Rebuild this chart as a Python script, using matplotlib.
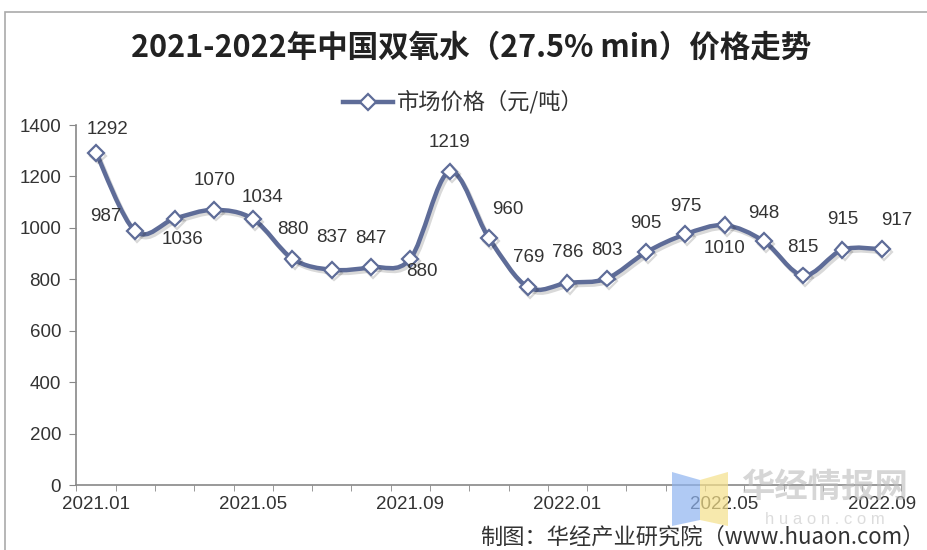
import matplotlib
matplotlib.use('Agg')
import matplotlib.pyplot as plt
import matplotlib.patheffects as pe
from matplotlib.path import Path
from matplotlib.patches import PathPatch, Rectangle, Polygon

plt.rcParams['font.family'] = ['Liberation Sans', 'Noto Sans CJK SC', 'DejaVu Sans']

months = ['2021.01', '2021.02', '2021.03', '2021.04', '2021.05', '2021.06', '2021.07',
          '2021.08', '2021.09', '2021.10', '2021.11', '2021.12', '2022.01', '2022.02',
          '2022.03', '2022.04', '2022.05', '2022.06', '2022.07', '2022.08', '2022.09']
prices = [1292, 987, 1036, 1070, 1034, 880, 837, 847, 880, 1219, 960,
          769, 786, 803, 905, 975, 1010, 948, 815, 915, 917]
tick_labels = ['2021.01', '2021.05', '2021.09', '2022.01', '2022.05', '2022.09']

# label offsets in pixels (dx, dy), style only
label_off = [(11, 23), (-30, 15), (8, -21), (1, 29), (9, 22), (0, 29), (0, 32),
             (0, 29), (12, -13), (0, 29), (19, 29), (1, 30), (0, 30), (0, 28),
             (0, 29), (0, 28), (0, -23), (0, 28), (0, 28), (0, 30), (15, 29)]

line_c = '#5E6C98'
cjk = ['Noto Sans CJK SC', 'DejaVu Sans']

fig = plt.figure(figsize=(9.28, 5.5), dpi=100)
ax = fig.add_axes([76.4 / 928, 1 - 485 / 550, 825 / 928, 360 / 550])

x = list(range(len(prices)))

# smooth curve (Catmull-Rom as cubic bezier, like Excel smoothed line)
verts = [(x[0], prices[0])]
codes = [Path.MOVETO]
n = len(prices)
for i in range(n - 1):
    p0 = (x[max(i - 1, 0)], prices[max(i - 1, 0)])
    p1 = (x[i], prices[i])
    p2 = (x[i + 1], prices[i + 1])
    p3 = (x[min(i + 2, n - 1)], prices[min(i + 2, n - 1)])
    c1 = (p1[0] + (p2[0] - p0[0]) / 6, p1[1] + (p2[1] - p0[1]) / 6)
    c2 = (p2[0] - (p3[0] - p1[0]) / 6, p2[1] - (p3[1] - p1[1]) / 6)
    verts += [c1, c2, p2]
    codes += [Path.CURVE4] * 3
shadow = [pe.SimpleLineShadow(offset=(1.5, -2), alpha=0.15, shadow_color='black'), pe.Normal()]
curve = PathPatch(Path(verts, codes), facecolor='none', edgecolor=line_c, lw=3.2,
                  capstyle='round', joinstyle='round', zorder=3, path_effects=shadow)
ax.add_patch(curve)

ax.plot(x, prices, linestyle='none', marker='D', markersize=8, markerfacecolor='white',
        markeredgecolor=line_c, markeredgewidth=1.6, zorder=4, path_effects=shadow)

for xi, v, (dx, dy) in zip(x, prices, label_off):
    ax.annotate(str(v), (xi, v), xytext=(dx, dy), textcoords='offset pixels',
                ha='center', va='center', fontsize=13.5, color='#333333', zorder=5)

ax.set_xlim(-0.5, n - 0.5)
ax.set_ylim(0, 1400)
ax.set_yticks(range(0, 1401, 200))
ax.set_xticks([months.index(t) for t in tick_labels])
ax.set_xticklabels(tick_labels)
ax.set_xticks([i - 0.5 for i in range(n + 1)], minor=True)
ax.tick_params(axis='x', which='major', length=0, pad=8, labelsize=13.5, labelcolor='#333333')
ax.tick_params(axis='x', which='minor', length=4, color='#888888', direction='out')
ax.tick_params(axis='y', length=5, color='#888888', pad=6, labelsize=13.5, labelcolor='#333333')
for s in ['top', 'right']:
    ax.spines[s].set_visible(False)
for s in ['left', 'bottom']:
    ax.spines[s].set_color('#888888')
    ax.spines[s].set_linewidth(1.2)

# outer chart frame
fig.add_artist(Rectangle((5 / 928, -0.1), 1.2, 1 - 12 / 550 + 0.1, transform=fig.transFigure,
                         facecolor='none', edgecolor='#aaaaaa', lw=1.2))

fig.text(471 / 928, 1 - 48 / 550, '2021-2022年中国双氧水（27.5% min）价格走势', ha='center', va='center',
         fontsize=22, fontweight='bold', color='#222222', family=cjk)

# legend
fig.add_artist(plt.Line2D([343 / 928, 393 / 928], [1 - 102 / 550] * 2, color=line_c, lw=3.2,
                          transform=fig.transFigure))
fig.add_artist(plt.Line2D([368 / 928], [1 - 102 / 550], color=line_c, marker='D', markersize=8,
                          markerfacecolor='white', markeredgewidth=1.6, transform=fig.transFigure))
fig.text(397 / 928, 1 - 102 / 550, '市场价格（元/吨）', ha='left', va='center', fontsize=16,
         color='#333333', family=cjk)

# watermark
fig.add_artist(Polygon([(672 / 928, 1 - 472 / 550), (700 / 928, 1 - 480 / 550), (700 / 928, 1 - 520 / 550),
                        (672 / 928, 1 - 526 / 550)], closed=True, transform=fig.transFigure,
                       facecolor='#8fb4f0', edgecolor='none', alpha=0.7))
fig.add_artist(Polygon([(700 / 928, 1 - 480 / 550), (728 / 928, 1 - 472 / 550), (728 / 928, 1 - 526 / 550),
                        (700 / 928, 1 - 520 / 550)], closed=True, transform=fig.transFigure,
                       facecolor='#f5e08a', edgecolor='none', alpha=0.7))
fig.text(825 / 928, 1 - 487 / 550, '华经情报网', ha='center', va='center', fontsize=24,
         fontweight='bold', color='#bbbbbb', alpha=0.6, family=cjk)
fig.text(825 / 928, 1 - 519 / 550, 'h u a o n . c o m', ha='center', va='center', fontsize=12,
         color='#bbbbbb', alpha=0.5)

fig.text(925 / 928, 1 - 537 / 550, '制图：华经产业研究院（www.huaon.com）', ha='right', va='center',
         fontsize=16, color='#333333', family=cjk)

fig.savefig('out.png', dpi=100)
